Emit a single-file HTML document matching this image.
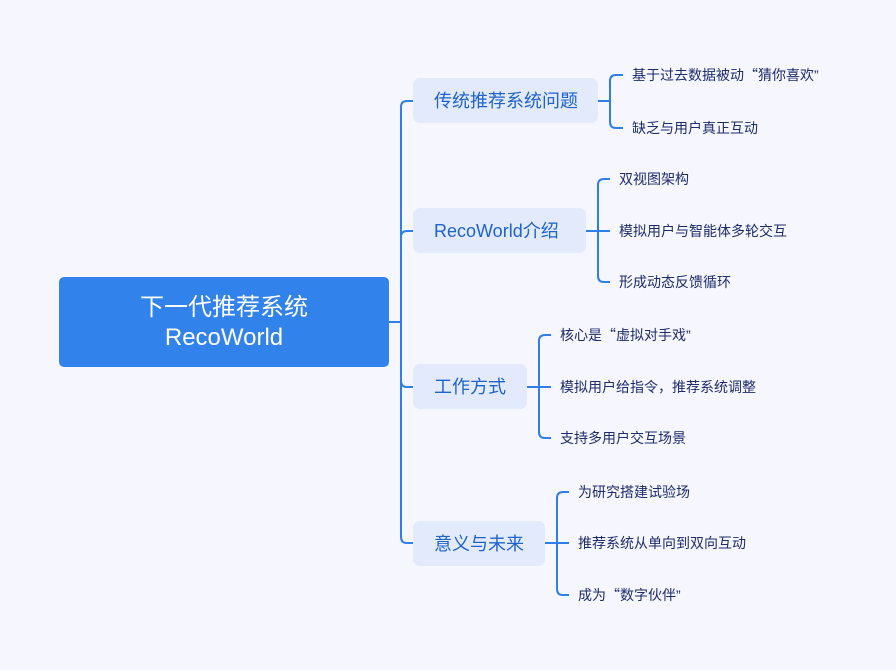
<!DOCTYPE html>
<html>
<head>
<meta charset="utf-8">
<style>
  html,body{margin:0;padding:0;}
  body{width:896px;height:670px;background:#F5F6FE;position:relative;overflow:hidden;
    font-family:"Liberation Sans","Noto Sans CJK SC",sans-serif;}
  svg{position:absolute;left:0;top:0;}
  .root{position:absolute;left:59px;top:277px;width:330px;height:90px;background:#3182EA;border-radius:5px;
    color:#fff;font-size:24px;line-height:30px;text-align:center;display:flex;flex-direction:column;justify-content:center;padding-top:2px;box-sizing:border-box;}
  .br{position:absolute;left:413px;height:45px;background:#E2EAFC;border-radius:7px;color:#1F63CC;font-size:18px;
    line-height:47px;padding-left:21px;box-sizing:border-box;white-space:nowrap;}
  .ch{position:absolute;font-size:14px;color:#1D2C6C;line-height:20px;white-space:nowrap;}
  .q{font-family:"Noto Sans CJK SC",sans-serif;}
</style>
</head>
<body>
<svg width="896" height="670" viewBox="0 0 896 670">
  <g fill="none" stroke="#2F7FEA" stroke-width="2">
    <path d="M389,322 H401 V107 Q401,101 407,101 H413"/>
    <path d="M401,322 V237 Q401,231 407,231 H413"/>
    <path d="M401,322 V381 Q401,387 407,387 H413"/>
    <path d="M401,322 V537 Q401,543 407,543 H413"/>
    <path d="M598,101 H610"/>
    <path d="M610,101 V81 Q610,75 616,75 H623"/>
    <path d="M610,101 V122 Q610,128 616,128 H623"/>
    <path d="M586,231 H610"/>
    <path d="M598,231 V185 Q598,179 604,179 H610"/>
    <path d="M598,231 V276 Q598,282 604,282 H610"/>
    <path d="M527,387 H551"/>
    <path d="M539,387 V341 Q539,335 545,335 H551"/>
    <path d="M539,387 V432 Q539,438 545,438 H551"/>
    <path d="M545,543 H569"/>
    <path d="M557,543 V498 Q557,492 563,492 H569"/>
    <path d="M557,543 V589 Q557,595 563,595 H569"/>
  </g>
</svg>

<div class="root"><div>下一代推荐系统</div><div>RecoWorld</div></div>

<div class="br" style="top:78px;width:185px;">传统推荐系统问题</div>
<div class="br" style="top:208px;width:173px;">RecoWorld介绍</div>
<div class="br" style="top:364px;width:114px;">工作方式</div>
<div class="br" style="top:521px;width:132px;">意义与未来</div>

<div class="ch" style="left:632px;top:65px;">基于过去数据被动<span class="q">“</span>猜你喜欢”</div>
<div class="ch" style="left:632px;top:118px;">缺乏与用户真正互动</div>

<div class="ch" style="left:619px;top:169px;">双视图架构</div>
<div class="ch" style="left:619px;top:221px;">模拟用户与智能体多轮交互</div>
<div class="ch" style="left:619px;top:272px;">形成动态反馈循环</div>

<div class="ch" style="left:560px;top:325px;">核心是<span class="q">“</span>虚拟对手戏”</div>
<div class="ch" style="left:560px;top:377px;">模拟用户给指令，推荐系统调整</div>
<div class="ch" style="left:560px;top:428px;">支持多用户交互场景</div>

<div class="ch" style="left:578px;top:482px;">为研究搭建试验场</div>
<div class="ch" style="left:578px;top:533px;">推荐系统从单向到双向互动</div>
<div class="ch" style="left:578px;top:585px;">成为<span class="q">“</span>数字伙伴”</div>
</body>
</html>
